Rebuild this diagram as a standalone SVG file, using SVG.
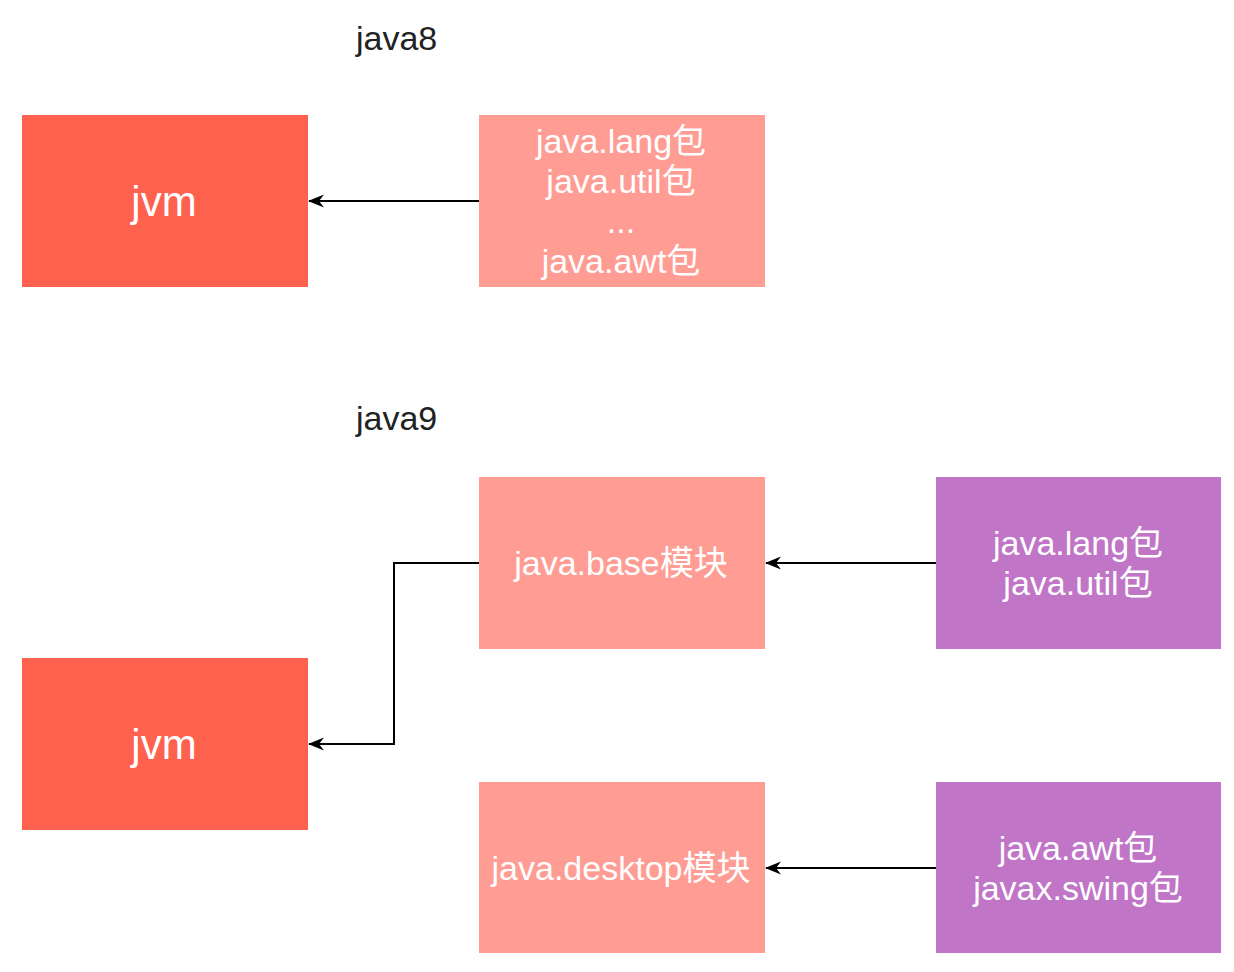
<svg xmlns="http://www.w3.org/2000/svg" width="1234" height="972" viewBox="0 0 1234 972">
<defs>
<style>
.t{font-family:"Liberation Sans","Noto Sans CJK SC",sans-serif;fill:#fff;text-anchor:middle}
.lbl{font-family:"Liberation Sans","Noto Sans CJK SC",sans-serif;fill:#222;font-size:34px}
.jvm{fill:#FF614F}
.mod{fill:#FF9C94}
.pkg{fill:#C075C7}
.c{fill:none;stroke:#000;stroke-width:2;marker-end:url(#ah)}
</style>
<marker id="ah" viewBox="0 0 16 14" refX="15" refY="7" markerWidth="16" markerHeight="14" markerUnits="userSpaceOnUse" orient="auto">
<path d="M0,0.5 L16,7 L0,13.5 L5,7 Z" fill="#000"/>
</marker>
</defs>
<rect width="1234" height="972" fill="#fff"/>
<text class="lbl" x="356" y="50">java8</text>
<text class="lbl" x="356" y="430">java9</text>
<g id="jvm8"><rect class="jvm" x="22" y="115" width="286" height="172"/><text class="t" x="164" y="216" font-size="42">jvm</text></g>
<g id="pk8"><rect class="mod" x="479" y="115" width="286" height="172"/>
<text class="t" x="621" y="153" font-size="34">java.lang包</text>
<text class="t" x="621" y="193" font-size="34">java.util包</text>
<text class="t" x="621" y="233" font-size="34">...</text>
<text class="t" x="621" y="273" font-size="34">java.awt包</text></g>
<g id="base"><rect class="mod" x="479" y="477" width="286" height="172"/><text class="t" x="621" y="575" font-size="34">java.base模块</text></g>
<g id="pk9a"><rect class="pkg" x="936" y="477" width="285" height="172"/>
<text class="t" x="1078" y="555" font-size="34">java.lang包</text>
<text class="t" x="1078" y="595" font-size="34">java.util包</text></g>
<g id="jvm9"><rect class="jvm" x="22" y="658" width="286" height="172"/><text class="t" x="164" y="759" font-size="42">jvm</text></g>
<g id="desk"><rect class="mod" x="479" y="782" width="286" height="171"/><text class="t" x="621" y="880" font-size="34">java.desktop模块</text></g>
<g id="pk9b"><rect class="pkg" x="936" y="782" width="285" height="171"/>
<text class="t" x="1078" y="860" font-size="34">java.awt包</text>
<text class="t" x="1078" y="900" font-size="34">javax.swing包</text></g>
<g id="connectors">
<path class="c" d="M479,201 H309"/>
<path class="c" d="M479,563 H394 V744 H309"/>
<path class="c" d="M936,563 H766"/>
<path class="c" d="M936,868 H766"/>
</g>
</svg>
